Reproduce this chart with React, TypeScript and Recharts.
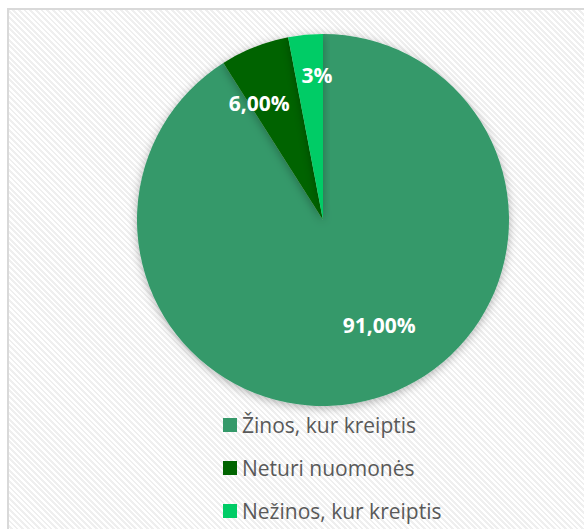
import React from 'react'
import { PieChart, Pie, Cell } from 'recharts'

const categories = ['Žinos, kur kreiptis', 'Neturi nuomonės', 'Nežinos, kur kreiptis']
const values = [91, 6, 3]
const valueLabels = ['91,00%', '6,00%', '3%']
const colors = ['#35996A', '#006400', '#00CC66']
// label placement: share of the radius and a small angle nudge (deg)
const labelRadius = [0.64, 0.715, 0.78]
const labelNudge = [12, 7, -3]

const data = categories.map((name, i) => ({ name, value: values[i] }))

const RAD = Math.PI / 180

function renderLabel(props: any) {
  const { cx, cy, midAngle, outerRadius, index } = props
  const r = outerRadius * labelRadius[index]
  const a = (midAngle + labelNudge[index]) * RAD
  const x = cx + r * Math.cos(-a)
  const y = cy + r * Math.sin(-a)
  return (
    <text
      x={x}
      y={y}
      fill="#fff"
      textAnchor="middle"
      dominantBaseline="central"
      style={{ fontSize: 21, fontWeight: 700, fontFamily: 'Open Sans' }}
    >
      {valueLabels[index]}
    </text>
  )
}

function ChartLegend() {
  return (
    <div style={{ position: 'absolute', left: 223, top: 403 }}>
      {categories.map((name, i) => (
        <div key={name} style={{ display: 'flex', alignItems: 'center', height: 43 }}>
          <span style={{ width: 14, height: 14, background: colors[i], marginRight: 5, display: 'inline-block' }} />
          <span style={{ fontSize: 21, color: '#595959', fontFamily: 'Open Sans', whiteSpace: 'nowrap' }}>{name}</span>
        </div>
      ))}
    </div>
  )
}

export default function App() {
  return (
    <div style={{ position: 'absolute', left: 0, top: 0, width: 584, height: 529, background: '#fff', overflow: 'hidden' }}>
      <div
        style={{
          position: 'absolute',
          left: 7,
          top: 8,
          width: 600,
          height: 560,
          border: '2px solid #d9d9d9',
          background: 'repeating-linear-gradient(45deg, #ffffff 0px, #ffffff 2px, #efefef 2px, #efefef 4px)',
        }}
      />
      <div style={{ position: 'absolute', left: 0, top: 0 }}>
        <PieChart width={584} height={529}>
          <defs>
            <filter id="pieShadow" x="-20%" y="-20%" width="140%" height="140%">
              <feDropShadow dx="0" dy="2" stdDeviation="5" floodColor="#000" floodOpacity="0.3" />
            </filter>
          </defs>
          <Pie
            data={data}
            dataKey="value"
            nameKey="name"
            cx={318}
            cy={215}
            outerRadius={186}
            startAngle={90}
            endAngle={-270}
            stroke="none"
            label={renderLabel}
            labelLine={false}
            isAnimationActive={false}
            style={{ filter: 'url(#pieShadow)' }}
          >
            {data.map((d, i) => (
              <Cell key={d.name} fill={colors[i]} />
            ))}
          </Pie>
        </PieChart>
      </div>
      <ChartLegend />
    </div>
  )
}
